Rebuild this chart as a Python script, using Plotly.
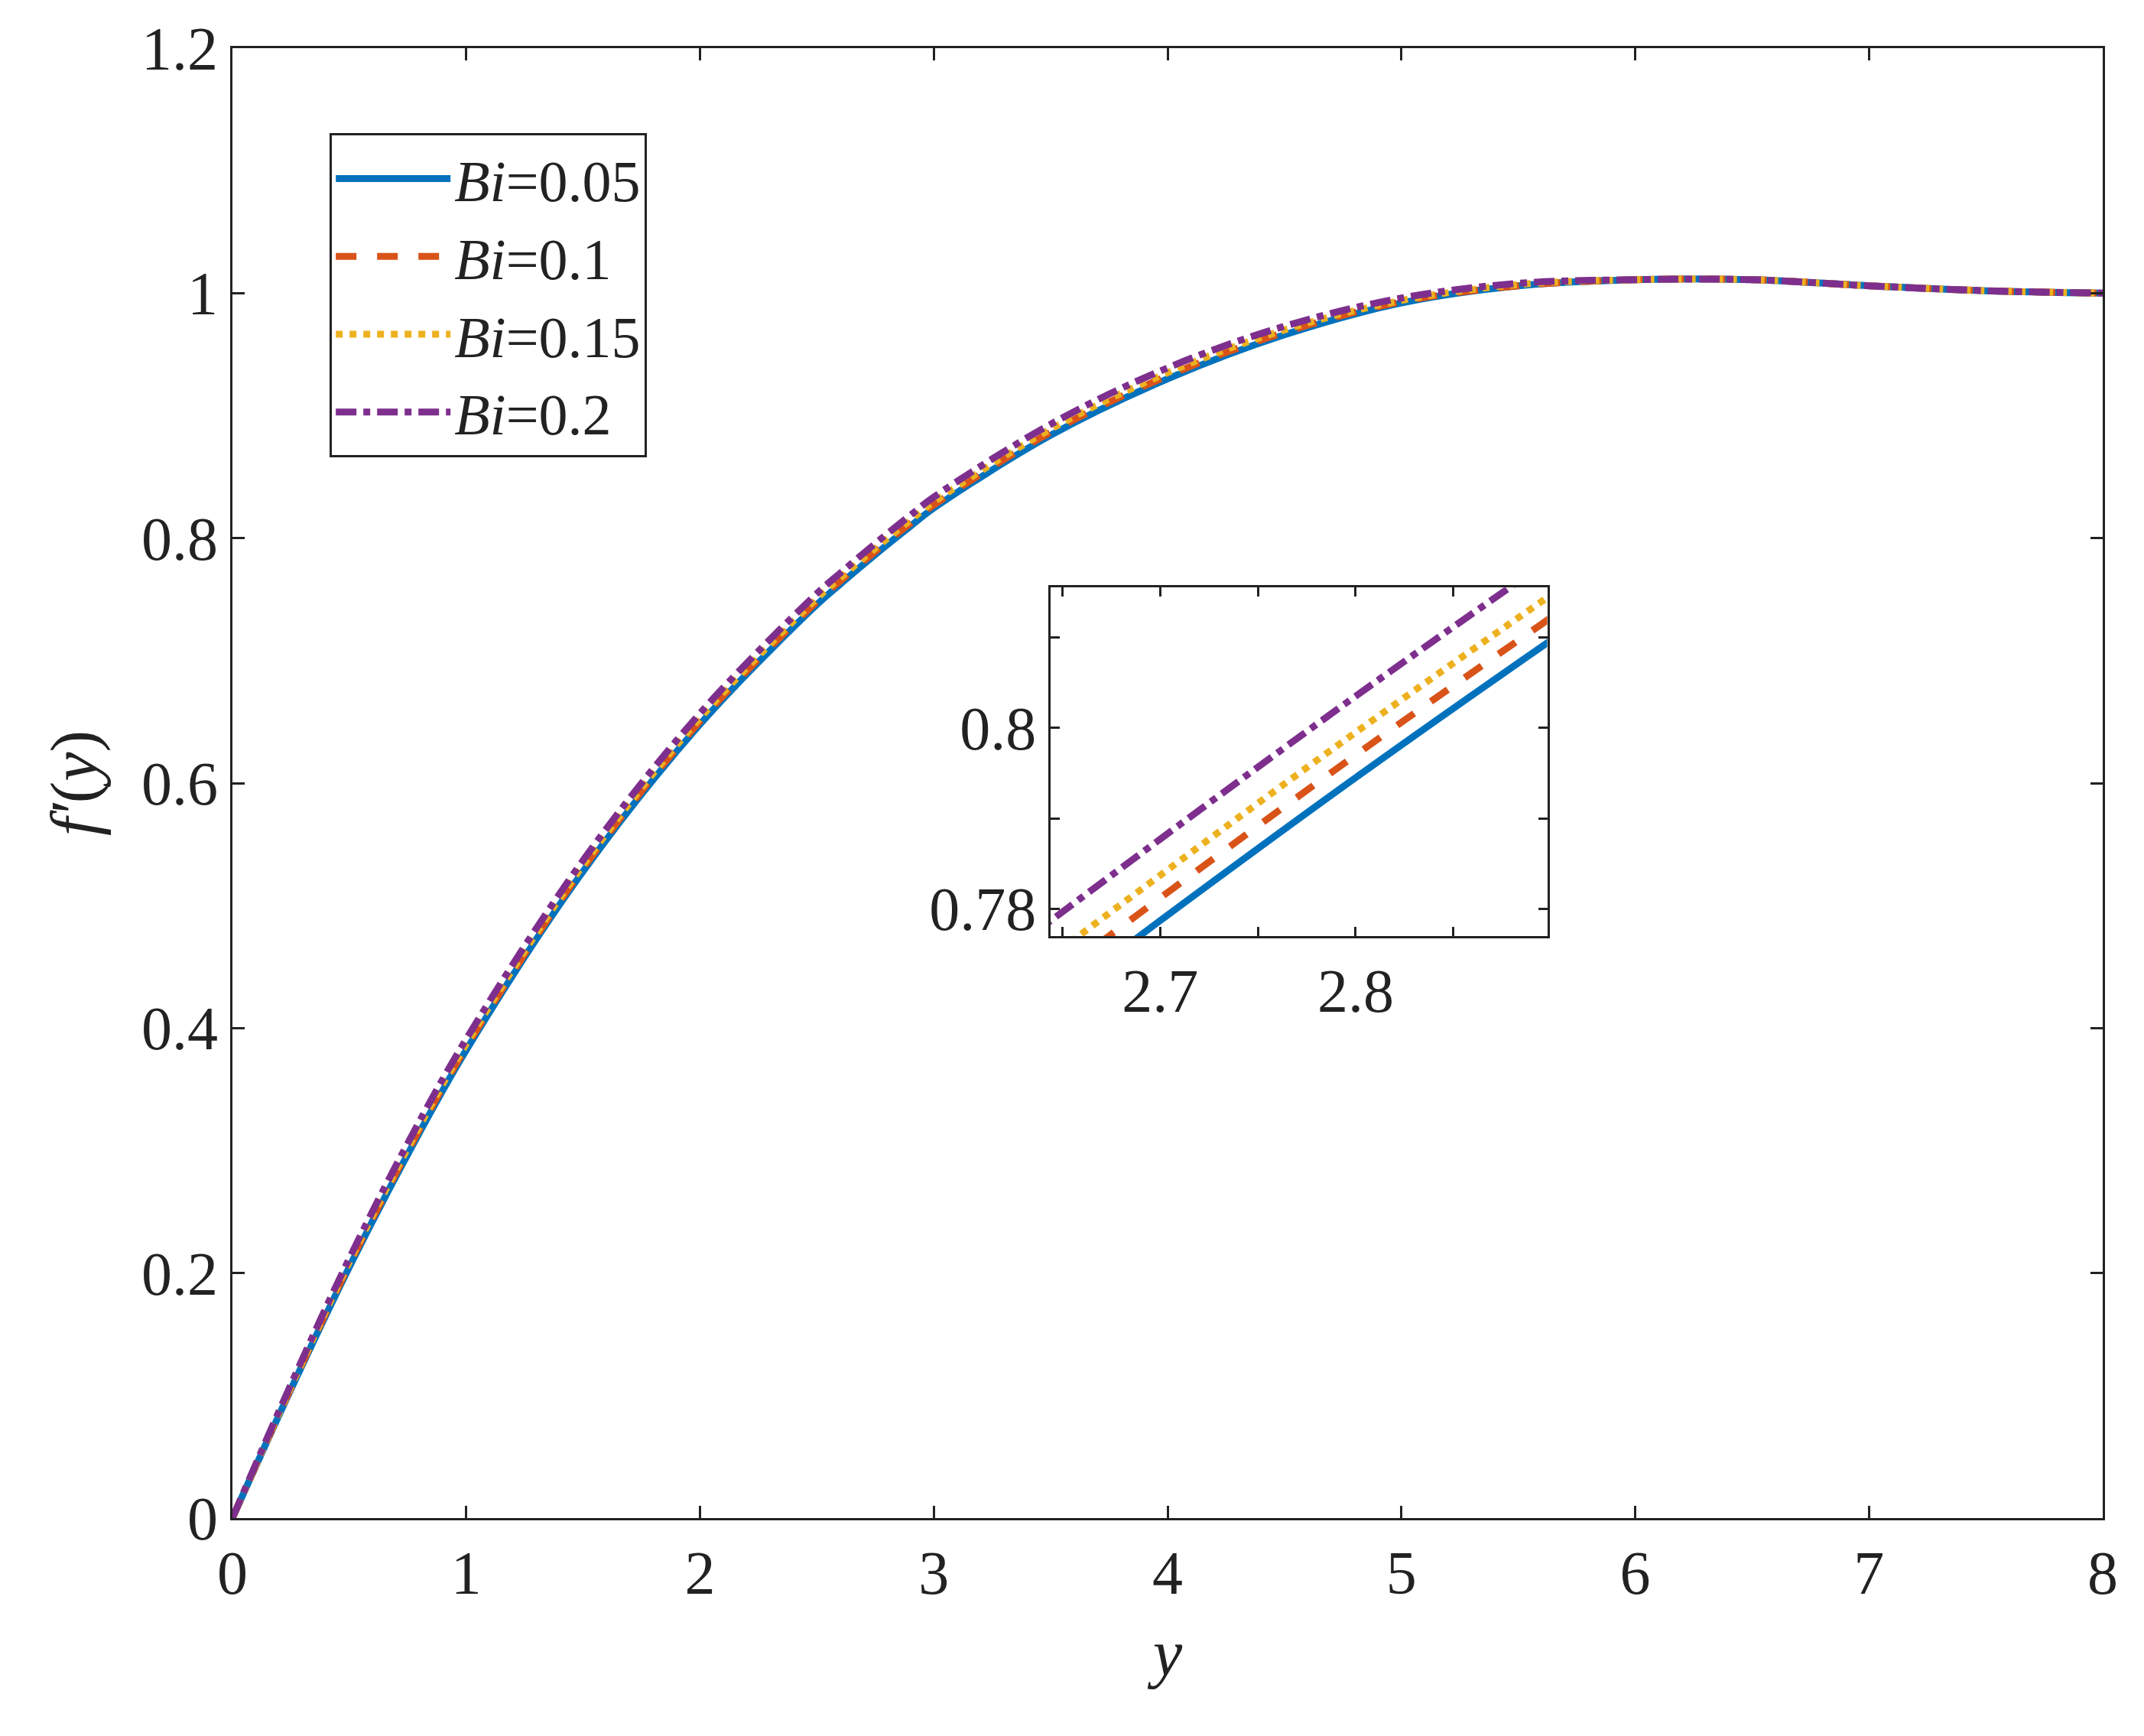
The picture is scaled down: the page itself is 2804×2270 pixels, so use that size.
import plotly.graph_objects as go

y_vals = [0, 0.25, 0.5, 0.75, 1, 1.5, 2, 2.5, 2.6, 2.7, 2.8, 2.9, 3, 3.5, 4, 4.5, 5, 5.5, 6, 6.5, 7, 7.5, 8]
bi_005 = [0, 0.105, 0.205, 0.297, 0.382, 0.528, 0.648, 0.7458, 0.7625, 0.7787, 0.7945, 0.8097, 0.8245, 0.884, 0.930, 0.966, 0.992, 1.006, 1.011, 1.011, 1.006, 1.002, 1.000]
bi_010 = [0, 0.106, 0.207, 0.2995, 0.3845, 0.5305, 0.6505, 0.7483, 0.7650, 0.7812, 0.7970, 0.8122, 0.8270, 0.8865, 0.9325, 0.968, 0.993, 1.006, 1.011, 1.011, 1.006, 1.002, 1.000]
bi_015 = [0, 0.107, 0.209, 0.302, 0.387, 0.533, 0.653, 0.7508, 0.7675, 0.7837, 0.7995, 0.8147, 0.8295, 0.889, 0.935, 0.970, 0.994, 1.007, 1.011, 1.011, 1.006, 1.002, 1.000]
bi_020 = [0, 0.109, 0.212, 0.306, 0.391, 0.537, 0.657, 0.7548, 0.7715, 0.7877, 0.8035, 0.8187, 0.8335, 0.893, 0.939, 0.973, 0.996, 1.008, 1.011, 1.011, 1.006, 1.002, 1.000]
labels = ["<i>Bi</i>=0.05", "<i>Bi</i>=0.1", "<i>Bi</i>=0.15", "<i>Bi</i>=0.2"]
colors = ["#0072BD", "#D95319", "#EDB120", "#7E2F8E"]
dashes = ["solid", "dash", "dot", "dashdot"]
series = [bi_005, bi_010, bi_015, bi_020]

FAM = "Times New Roman, Liberation Serif, serif"
fig = go.Figure()
for s, lab, c, d in zip(series, labels, colors, dashes):
    fig.add_trace(go.Scatter(x=y_vals, y=s, name=lab, mode="lines", line_shape="spline",
                             line=dict(color=c, dash=d, width=9)))
for s, lab, c, d in zip(series, labels, colors, dashes):
    fig.add_trace(go.Scatter(x=y_vals, y=s, name=lab, mode="lines", showlegend=False,
                             line=dict(color=c, dash=d, width=9), xaxis="x2", yaxis="y2", line_shape="spline"))

font = dict(family=FAM, size=80, color="#222")
ax = dict(showline=True, linecolor="#222", linewidth=3, mirror="ticks", ticks="inside",
          ticklen=16, tickwidth=3, tickcolor="#222", showgrid=False, zeroline=False, tickfont=font)
fig.update_layout(
    width=2804, height=2270, paper_bgcolor="white", plot_bgcolor="white", font=font,
    margin=dict(l=296, r=62, t=52, b=293),
    xaxis=dict(ax, range=[0, 8], dtick=1, domain=[0, 1],
               title=dict(text="<i>y</i>", font=dict(family=FAM, size=86), standoff=30)),
    yaxis=dict(ax, range=[0, 1.2], dtick=0.2, domain=[0, 1],
               tickvals=[0, 0.2, 0.4, 0.6, 0.8, 1, 1.2], ticktext=["0", "0.2", "0.4", "0.6", "0.8", "1", "1.2"],
               title=dict(text="<i>f′</i>(<i>y</i>)", font=dict(family=FAM, size=86), standoff=30)),
    xaxis2=dict(ax, range=[2.644, 2.898], domain=[0.4375, 0.703], anchor="y2",
                tickvals=[2.65, 2.7, 2.75, 2.8, 2.85], ticktext=["", "2.7", "", "2.8", ""], ticklen=12),
    yaxis2=dict(ax, range=[0.777, 0.8155], domain=[0.396, 0.633], anchor="x2",
                tickvals=[0.78, 0.79, 0.8, 0.81], ticktext=["0.78", "", "0.8", ""], ticklen=12),
    legend=dict(x=0.052, y=0.942, xanchor="left", yanchor="top", bgcolor="white",
                bordercolor="#222", borderwidth=3, font=dict(family=FAM, size=76),
                itemwidth=150, tracegroupgap=0),
)
fig.write_html("out.html")
